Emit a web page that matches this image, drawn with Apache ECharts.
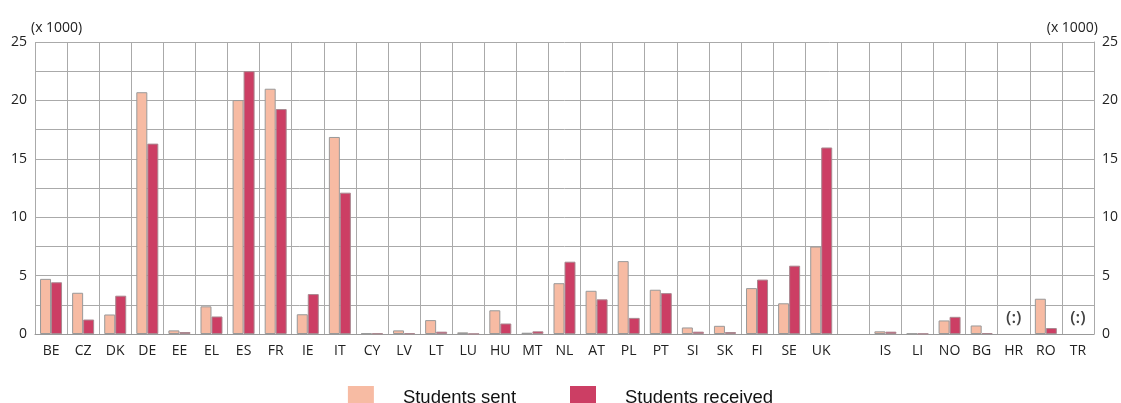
<!DOCTYPE html>
<html>
<head>
<meta charset="utf-8">
<script src="https://cdn.jsdelivr.net/npm/echarts@6/dist/echarts.min.js"></script>
<style>html,body{margin:0;padding:0;background:#fff}#c{width:1121px;height:403px}</style>
</head>
<body>
<div id="c"></div>
<script>
const categories = ['BE','CZ','DK','DE','EE','EL','ES','FR','IE','IT','CY','LV','LT','LU','HU','MT','NL','AT','PL','PT','SI','SK','FI','SE','UK','','IS','LI','NO','BG','HR','RO','TR'];
const studentsSent = [4.72,3.53,1.67,20.7,0.31,2.37,20.03,21.0,1.69,16.87,0.05,0.31,1.19,0.14,2.03,0.11,4.35,3.7,6.24,3.79,0.56,0.7,3.93,2.63,7.49,null,0.23,0.04,1.16,0.73,null,3.02,null];
const studentsReceived = [4.43,1.24,3.28,16.3,0.17,1.5,22.5,19.26,3.42,12.1,0.05,0.06,0.2,0.02,0.9,0.23,6.19,2.97,1.38,3.5,0.2,0.17,4.66,5.85,15.97,null,0.2,0.03,1.47,0.08,null,0.51,null];
const notAvailable = ['HR','TR'];
const yTicks = [0,5,10,15,20,25];

const chart = echarts.init(document.getElementById('c'));
const labelFont = '"Open Sans", sans-serif';
const yAxisBase = {
  type: 'value', min: 0, max: 25, interval: 2.5,
  axisLine: {show: false}, axisTick: {show: false},
  axisLabel: {color: '#222', fontSize: 14, fontFamily: labelFont,
    formatter: v => yTicks.includes(v) ? String(v) : ''},
  name: '(x 1000)', nameLocation: 'end', nameGap: 7,
  nameTextStyle: {color: '#222', fontSize: 14, fontFamily: labelFont}
};
chart.setOption({
  animation: false,
  grid: {left: 35, right: 22, top: 42, bottom: 69},
  legend: {
    top: 381, left: 'center', itemWidth: 26, itemHeight: 24, itemGap: 54,
    icon: 'rect',
    itemStyle: {borderWidth: 0},
    textStyle: {fontFamily: '"Liberation Sans", Arial, sans-serif', fontSize: 18.5, color: '#111', padding: [3,0,0,24]},
    data: ['Students sent','Students received']
  },
  xAxis: {
    type: 'category', data: categories, boundaryGap: true,
    axisLine: {show: true, lineStyle: {color: '#999'}},
    axisTick: {show: false},
    axisLabel: {interval: 0, color: '#222', fontSize: 14, fontFamily: labelFont, margin: 10},
    splitLine: {show: true, interval: 0, lineStyle: {color: '#aaa', width: 1}}
  },
  yAxis: [
    Object.assign({}, yAxisBase, {position: 'left',
      splitLine: {show: true, lineStyle: {color: '#aaa', width: 1}},
      nameTextStyle: Object.assign({}, yAxisBase.nameTextStyle, {align: 'left', padding: [0,0,0,-4]})}),
    Object.assign({}, yAxisBase, {position: 'right',
      splitLine: {show: false},
      axisLine: {show: true, lineStyle: {color: '#aaa'}},
      nameTextStyle: Object.assign({}, yAxisBase.nameTextStyle, {align: 'right', padding: [0,-4,0,0]})})
  ],
  series: [
    {name: 'Students sent', type: 'bar', data: studentsSent, barWidth: 11, barGap: '0%',
      itemStyle: {color: '#f7bba3', borderColor: '#999', borderWidth: 1}},
    {name: 'Students received', type: 'bar', data: studentsReceived, barWidth: 11,
      itemStyle: {color: '#cc3e64', borderColor: '#aa8890', borderWidth: 1}},
    {name: 'na', type: 'scatter', symbolSize: 0,
      data: notAvailable.map(c => [c, 0]),
      label: {show: true, position: 'top', distance: 7, formatter: '(:)', color: '#111', fontSize: 17, fontWeight: 600, fontFamily: labelFont},
      silent: true}
  ]
});
</script>
</body>
</html>
